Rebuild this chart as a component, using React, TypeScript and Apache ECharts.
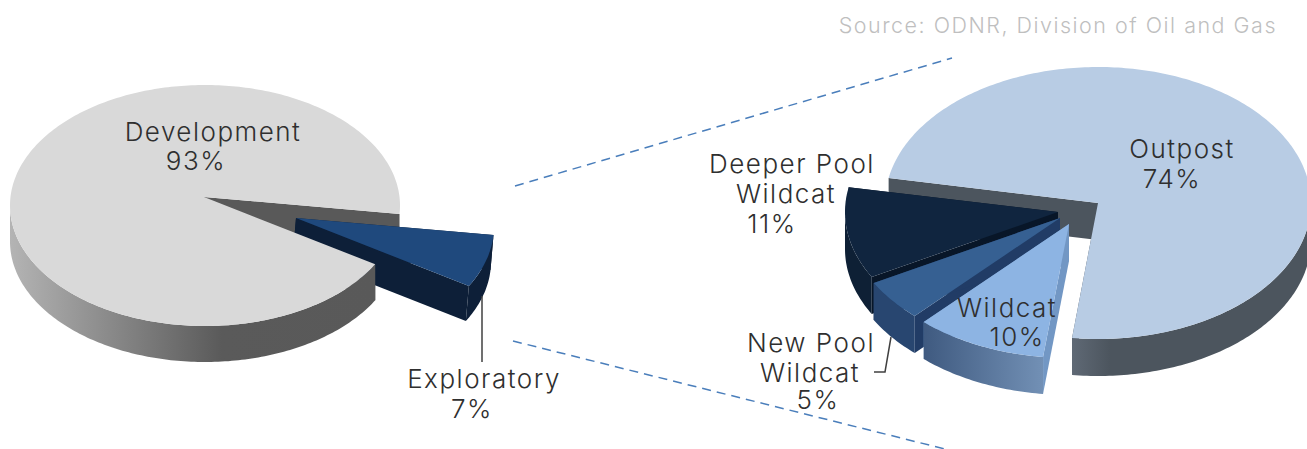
import React, { useEffect, useRef } from "react";
import * as echarts from "echarts";

const mainCategories = ["Development", "Exploratory"];
const mainValues = [93, 7];
const subCategories = ["Outpost", "Wildcat", "New Pool Wildcat", "Deeper Pool Wildcat"];
const subValues = [74, 10, 5, 11];
const sourceNote = "Source: ODNR, Division of Oil and Gas";

const FONT = "Inter";
const TEXT = "#2f2f2f";
const LG = (stops: [number, string][]) =>
  new echarts.graphic.LinearGradient(0, 0, 1, 0, stops.map(([offset, color]) => ({ offset, color })));

type Slice = {
  cx: number; cy: number; rx: number; ry: number; ax: number; ay: number; depth: number; dx: number;
  top: string; radial: string; outer: any; zBack: number; zFront: number;
  lines: [number, number][];
};

const mainLayout: Slice[] = [
  { cx: 205, cy: 205.5, rx: 195, ry: 120.5, ax: 204, ay: 197, depth: 36, dx: 0, top: "#d9d9d9", radial: "#595959",
    outer: LG([[0, "#b4b4b4"], [0.58, "#5a5a5a"], [1, "#595959"]]), zBack: 10, zFront: 30,
    lines: [[213, 131], [196, 160]] },
  { cx: 296, cy: 226.5, rx: 198, ry: 122, ax: 296, ay: 218, depth: 35, dx: -3, top: "#1f497d", radial: "#0d1f38",
    outer: "#0d1f38", zBack: 20, zFront: 21,
    lines: [[484, 378], [472, 408]] },
];
const subLayout: Slice[] = [
  { cx: 1098, cy: 203, rx: 213, ry: 136, ax: 1098, ay: 203, depth: 37, dx: 0, top: "#b8cce4", radial: "#4c555e",
    outer: LG([[0, "#5f6975"], [0.16, "#4c555e"], [1, "#4c555e"]]), zBack: 10, zFront: 11,
    lines: [[1182, 148], [1172, 178]] },
  { cx: 1069, cy: 224, rx: 213, ry: 134, ax: 1069, ay: 224, depth: 37, dx: 0, top: "#8db4e3", radial: "#7297c4",
    outer: LG([[0, "#3f5a80"], [1, "#7290b5"]]), zBack: 40, zFront: 41,
    lines: [[1007, 307], [1017, 336]] },
  { cx: 1060, cy: 218, rx: 213, ry: 134, ax: 1060, ay: 218, depth: 37, dx: 0, top: "#366092", radial: "#213c66",
    outer: "#284670", zBack: 30, zFront: 31,
    lines: [[811, 342], [810, 372], [818, 399]] },
  { cx: 1058, cy: 212, rx: 213, ry: 134, ax: 1058, ay: 212, depth: 37, dx: 0, top: "#10253f", radial: "#081628",
    outer: "#0e2035", zBack: 20, zFront: 21,
    lines: [[792, 163], [786, 193], [772, 223]] },
];

const rad = (d: number) => (d * Math.PI) / 180;

function arcPoints(s: Slice, a0: number, a1: number, shiftX = 0, shiftY = 0) {
  const pts: number[][] = [];
  const n = Math.max(2, Math.ceil(Math.abs(a1 - a0)));
  for (let i = 0; i <= n; i++) {
    const a = rad(a0 + ((a1 - a0) * i) / n);
    pts.push([s.cx + s.rx * Math.cos(a) + shiftX, s.cy + s.ry * Math.sin(a) + shiftY]);
  }
  return pts;
}

function sliceSeries(names: string[], values: number[], layout: Slice[], startAngle: number, name: string) {
  const total = values.reduce((a, b) => a + b, 0);
  return {
    type: "custom",
    name,
    coordinateSystem: "none",
    silent: true,
    clip: false,
    data: values.map((v) => [v]),
    renderItem: (params: any, api: any) => {
      const i = params.dataIndex;
      const s = layout[i];
      const before = values.slice(0, i).reduce((a, b) => a + b, 0);
      const a0 = startAngle + (before / total) * 360;
      const a1 = a0 + (api.value(0) / total) * 360;
      const top = arcPoints(s, a0, a1);
      const children: any[] = [];
      const apexBelow = [s.ax + s.dx, s.ay + s.depth];
      const p0 = top[0];
      const p1 = top[top.length - 1];
      for (const p of [p0, p1]) {
        children.push({
          type: "polygon", z2: s.zBack,
          shape: { points: [[s.ax, s.ay], apexBelow, [p[0] + s.dx, p[1] + s.depth], p] },
          style: { fill: s.radial },
        });
      }
      for (const [lo, hi] of [[0, 180], [360, 540]]) {
        const b0 = Math.max(a0, lo);
        const b1 = Math.min(a1, hi);
        if (b1 - b0 > 8) {
          const upper = arcPoints(s, b0, b1);
          const lower = arcPoints(s, b0, b1, s.dx, s.depth).reverse();
          children.push({
            type: "polygon", z2: s.zFront,
            shape: { points: upper.concat(lower) },
            style: { fill: s.outer },
          });
        }
      }
      children.push({
        type: "polygon", z2: s.zFront + 0.5,
        shape: { points: [[s.ax, s.ay], ...top] },
        style: { fill: s.top },
      });
      const textLines = [...names[i].replace(" Wildcat", "\nWildcat").split("\n"), `${api.value(0)}%`];
      textLines.forEach((line, k) => {
        children.push({
          type: "text", z2: 100,
          style: {
            text: line, x: s.lines[k][0], y: s.lines[k][1], fill: TEXT,
            fontFamily: FONT, fontSize: 26, fontWeight: 300,
            align: "center", verticalAlign: "middle",
          },
        });
      });
      return { type: "group", children };
    },
  };
}

const dashed = { stroke: "#4a7ebb", lineWidth: 1.5, lineDash: [9, 6] };
const leader = { stroke: "#404040", lineWidth: 1.5, fill: "none" };

export default function App() {
  const ref = useRef<HTMLDivElement>(null);
  useEffect(() => {
    const chart = echarts.init(ref.current!, undefined, { renderer: "svg" });
    chart.setOption({
      animation: false,
      backgroundColor: "#ffffff",
      graphic: [
        { type: "line", z: 1, shape: { x1: 515, y1: 186, x2: 952, y2: 58 }, style: dashed },
        { type: "line", z: 1, shape: { x1: 513, y1: 341, x2: 945, y2: 449 }, style: dashed },
        { type: "line", z: 10, shape: { x1: 482, y1: 296, x2: 482, y2: 362 }, style: leader },
        { type: "polyline", z: 10, shape: { points: [[874, 372], [885, 372], [891, 337]] }, style: leader },
        {
          type: "text", x: 1277, y: 25,
          style: {
            text: sourceNote, fill: "#bfbfbf", fontFamily: FONT, fontSize: 21.5, fontWeight: 300,
            align: "right", verticalAlign: "middle",
          },
        },
      ],
      series: [
        sliceSeries(mainCategories, mainValues, mainLayout, 29.2, "Well type"),
        sliceSeries(subCategories, subValues, subLayout, 190.6, "Exploratory breakdown"),
      ],
    });
    return () => chart.dispose();
  }, []);
  return <div ref={ref} style={{ position: "fixed", left: 0, top: 0, width: 1307, height: 449, letterSpacing: "1.5px" }} />;
}
